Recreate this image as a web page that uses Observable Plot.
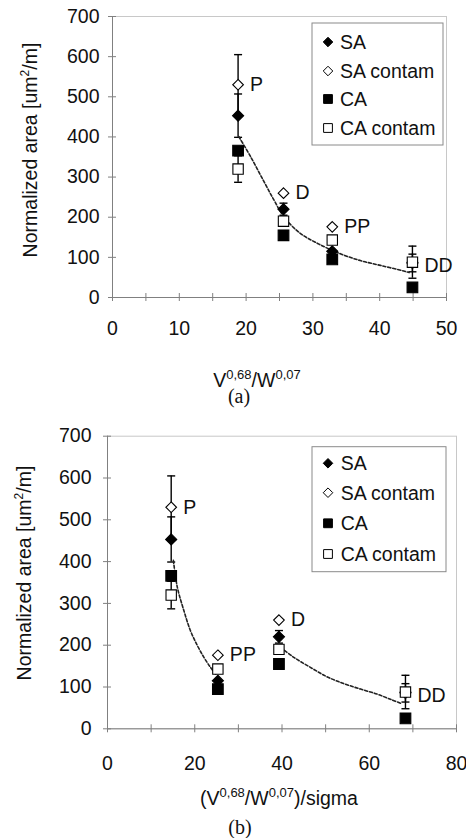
<!DOCTYPE html>
<html><head><meta charset="utf-8">
<script src="https://cdn.jsdelivr.net/npm/d3@7"></script>
<script src="https://cdn.jsdelivr.net/npm/@observablehq/plot@0.6"></script>
<style>
body{margin:0;background:#fff;}
#root{position:relative;width:466px;height:838px;overflow:hidden;}
.panel{position:absolute;left:0;}
</style></head><body><div id="root"></div>
<script>
// ---------- data ----------
const groups = ["P", "D", "PP", "DD"];
const xA = [18.8, 25.6, 32.9, 44.9];            // V^0,68/W^0,07
const xB = [14.6, 39.3, 25.3, 68.3];            // (V^0,68/W^0,07)/sigma
const series = ["SA", "SA contam", "CA", "CA contam"];
const saY = [453, 220, 115, 86];
const saErr = [54, 15, 0, 22];
const saContamY = [530, 260, 176, 88];
const saContamErr = [75, 0, 0, 0];
const caY = [366, 155, 95, 25];
const caErr = [6, 5, 5, 4];
const caContamY = [320, 190, 143, 88];
const caContamErr = [33, 8, 8, 40];
const yTicks = [0, 100, 200, 300, 400, 500, 600, 700];
const xTickLabelsA = [0, 10, 20, 30, 40, 50];
const xTickMarksA = [0, 5, 10, 15, 20, 25, 30, 35, 40, 45, 50];
const xTickLabelsB = [0, 20, 40, 60, 80];
const xTickMarksB = [0, 10, 20, 30, 40, 50, 60, 70, 80];
// trend lines
const trendAX = [18.9, 20.7, 22.6, 24.2, 25.7, 28.1, 30.9, 34.1, 37.1, 40.1, 43.6, 44.4];
const trendAY = [401, 350, 291, 242, 200, 160, 133, 109, 92, 80, 66, 62];
const trendB1X = [15.1, 16.0, 17.5, 19.0, 20.6, 22.1, 23.6, 24.8];
const trendB1Y = [403, 339, 283, 235, 199, 171, 147, 131];
const trendB2X = [39.7, 42.7, 46.5, 50.4, 54.2, 58.0, 61.8, 65.0, 67.5];
const trendB2Y = [195, 171, 147, 124, 108, 95, 83, 70, 60];

const FONT = '"Liberation Sans", Arial, sans-serif';
const INK = "#111";
const AXIS = "#808080";

function rows(xs) {
  const ys = [saY, saContamY, caY, caContamY];
  const es = [saErr, saContamErr, caErr, caContamErr];
  const out = [];
  series.forEach((s, si) => groups.forEach((g, gi) =>
    out.push({series: s, group: g, x: xs[gi], y: ys[si][gi], err: es[si][gi]})));
  return out;
}
function trendRows(xsList, ysList) {
  const out = [];
  xsList.forEach((xs, k) => xs.forEach((x, i) => out.push({x, y: ysList[k][i], seg: k})));
  return out;
}
const capSymbol = {draw(ctx, size) { const w = Math.sqrt(size / Math.PI); ctx.moveTo(-w, 0); ctx.lineTo(w, 0); }};
const style = {
  "SA": {symbol: "diamond2", fill: "#000", r: 5.0},
  "SA contam": {symbol: "diamond2", fill: "#fff", r: 4.8},
  "CA": {symbol: "square2", fill: "#000", r: 6.8},
  "CA contam": {symbol: "square2", fill: "#fff", r: 6.6}
};

function panel(cfg) {
  const data = rows(cfg.xs);
  const errs = data.filter(d => d.err > 0);
  const labelsY = groups.map((g, i) => ({group: g, x: cfg.xs[i], y: g === "DD" ? 80 : saContamY[i]}));
  const marks = [
    Plot.frame({stroke: "#c8c8c8"}),
    Plot.ruleX([0], {stroke: AXIS}),
    Plot.ruleY([0], {stroke: AXIS}),
    Plot.axisY({ticks: yTicks, text: null, label: null, tickSize: 8, dx: 4, stroke: AXIS}),
    Plot.axisY({ticks: yTicks, tickSize: 0, tickPadding: cfg.yPad, label: null, fontSize: 19.5, fill: INK, tickFormat: d => String(d)}),
    Plot.axisX({ticks: cfg.xMarks, text: null, label: null, tickSize: 8, dy: -4, stroke: AXIS}),
    Plot.axisX({ticks: cfg.xLabels, tickSize: 0, tickPadding: cfg.xPad, label: null, fontSize: 19.5, fill: INK, tickFormat: d => String(d)}),
    Plot.ruleX(errs, {x: "x", y1: d => d.y - d.err, y2: d => d.y + d.err, stroke: "#000", strokeWidth: 1.4}),
    Plot.dot(errs, {x: "x", y: d => d.y - d.err, symbol: capSymbol, r: 4, stroke: "#000", strokeWidth: 1.4}),
    Plot.dot(errs, {x: "x", y: d => d.y + d.err, symbol: capSymbol, r: 4, stroke: "#000", strokeWidth: 1.4}),
    Plot.line(trendRows(cfg.tX, cfg.tY), {x: "x", y: "y", z: "seg", stroke: "#222", strokeWidth: 1.6, strokeDasharray: "3,2", curve: "catmull-rom"}),
    ...series.map(s => Plot.dot(data.filter(d => d.series === s), {
      x: "x", y: "y", symbol: style[s].symbol, r: style[s].r, fill: style[s].fill, stroke: "#000", strokeWidth: 1.1
    })),
    Plot.text(labelsY, {x: "x", y: "y", text: "group", dx: 12, textAnchor: "start", fontSize: 19.5, fill: INK})
  ];
  const svg = Plot.plot({
    width: 466, height: cfg.height,
    marginTop: cfg.mt, marginBottom: cfg.mb, marginLeft: cfg.ml, marginRight: cfg.mr,
    x: {domain: cfg.xDomain},
    y: {domain: [0, 700]},
    style: {fontFamily: FONT, fontSize: "19.5px", color: INK, background: "transparent"},
    marks
  });
  const s = d3.select(svg);
  // y axis title
  const yt = s.append("text").attr("transform", `translate(${cfg.yTitle[0]},${cfg.yTitle[1]}) rotate(-90)`)
    .attr("text-anchor", "middle").attr("font-family", FONT).attr("font-size", 19.5).attr("fill", INK);
  yt.append("tspan").text("Normalized area [um");
  yt.append("tspan").attr("dy", -8).attr("font-size", 12).text("2");
  yt.append("tspan").attr("dy", 8).text("/m]");
  // x axis title
  const xt = s.append("text").attr("x", cfg.xTitle[0]).attr("y", cfg.xTitle[1])
    .attr("text-anchor", "middle").attr("font-family", FONT).attr("font-size", 19.5).attr("fill", INK);
  cfg.xTitleParts.forEach(([t, sup]) => {
    const ts = xt.append("tspan").text(t);
    if (sup === 1) ts.attr("dy", -8).attr("font-size", 13);
    if (sup === -1) ts.attr("dy", 8);
  });
  // caption (a)/(b)
  s.append("text").attr("x", cfg.cap[0]).attr("y", cfg.cap[1]).attr("text-anchor", "middle")
    .attr("font-family", '"Liberation Serif", "Times New Roman", serif').attr("font-size", 20).attr("fill", INK)
    .text(cfg.capText);
  // legend
  const L = cfg.legend;
  const lg = s.append("g");
  lg.append("rect").attr("x", L.x).attr("y", L.y).attr("width", L.w).attr("height", L.h)
    .attr("fill", "#fff").attr("stroke", "#8a8a8a").attr("stroke-width", 1);
  series.forEach((name, i) => {
    const cy = L.rows[i];
    const st = style[name];
    const sym = st.symbol === "diamond2" ? d3.symbolDiamond2 : d3.symbolSquare2;
    const lr = st.symbol === "diamond2" ? 4.3 : 5.6;
    lg.append("path").attr("transform", `translate(${L.mx},${cy})`)
      .attr("d", d3.symbol(sym, Math.PI * lr * lr)())
      .attr("fill", st.fill).attr("stroke", "#000").attr("stroke-width", 1);
    lg.append("text").attr("x", L.tx).attr("y", cy).attr("dy", "0.35em").attr("text-anchor", "start")
      .attr("font-family", FONT).attr("font-size", 19.5).attr("fill", INK).text(name);
  });
  svg.classList.add("panel");
  svg.style.top = cfg.top + "px";
  svg.style.overflow = "hidden";
  return svg;
}

const root = document.getElementById("root");
root.appendChild(panel({
  top: 0, height: 420, mt: 16, mb: 123, ml: 112, mr: 20,
  xs: xA, xDomain: [0, 50], xMarks: xTickMarksA, xLabels: xTickLabelsA,
  yPad: 13, xPad: 24,
  tX: [trendAX], tY: [trendAY],
  yTitle: [37, 150],
  xTitle: [257, 387], xTitleParts: [["V", 0], ["0,68", 1], ["/W", -1], ["0,07", 1]],
  cap: [239, 403], capText: "(a)",
  legend: {x: 312, y: 23, w: 131, h: 122, rows: [42, 71, 99, 128], mx: 328, tx: 340}
}));
root.appendChild(panel({
  top: 420, height: 418, mt: 15.7, mb: 109.7, ml: 107, mr: 10,
  xs: xB, xDomain: [0, 80], xMarks: xTickMarksB, xLabels: xTickLabelsB,
  yPad: 16, xPad: 27,
  tX: [trendB1X, trendB2X], tY: [trendB1Y, trendB2Y],
  yTitle: [31, 153],
  xTitle: [279, 385], xTitleParts: [["(V", 0], ["0,68", 1], ["/W", -1], ["0,07", 1], [")/sigma", -1]],
  cap: [240, 414], capText: "(b)",
  legend: {x: 312, y: 26.7, w: 134, h: 125, rows: [43.3, 72.7, 103.3, 134], mx: 328, tx: 340.7}
}));
</script></body></html>
